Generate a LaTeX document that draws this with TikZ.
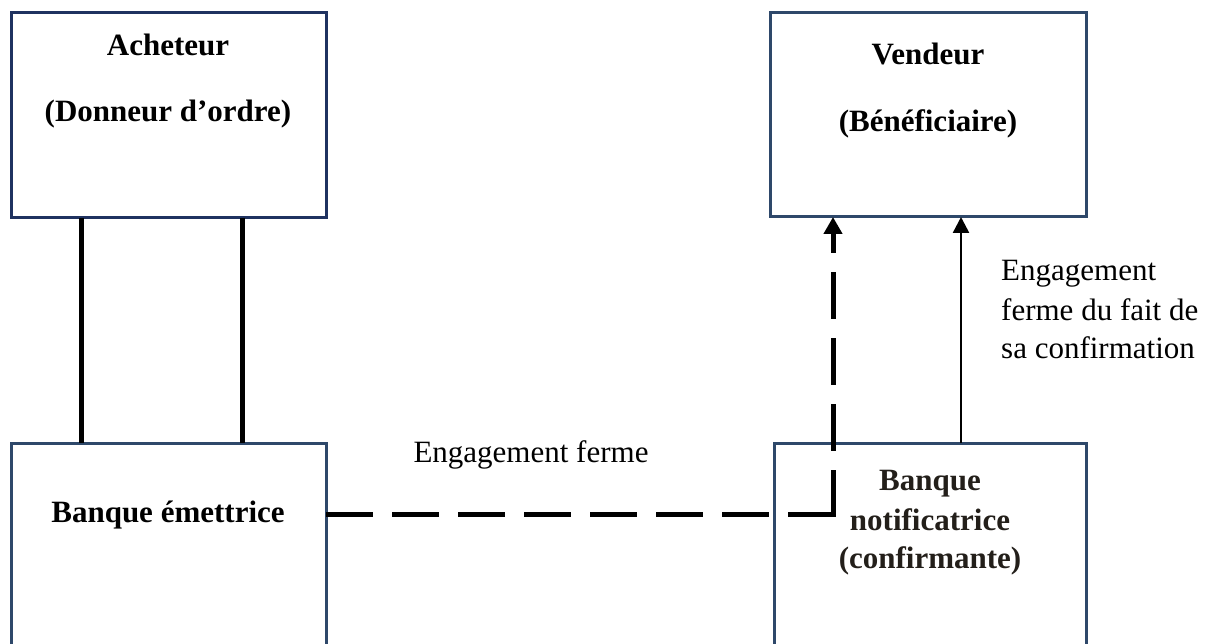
\documentclass[tikz,border=0pt]{standalone}
\usepackage{fontspec}
\setmainfont{Liberation Serif}
\usetikzlibrary{arrows.meta}
\definecolor{boxnavy}{RGB}{31,50,96}
\definecolor{boxblue}{RGB}{46,72,106}
\definecolor{inkdark}{RGB}{35,31,26}
\tikzset{
  party/.style={draw=boxblue, line width=3pt, inner sep=0pt, outer sep=0pt, rectangle},
  txt/.style={inner sep=0pt, font=\fontsize{31}{39}\selectfont},
  btxt/.style={txt, font=\fontsize{31}{39}\selectfont\bfseries},
  link/.style={line width=5pt, black},
  firm/.style={line width=5pt, black, dash pattern=on 47pt off 19pt,
    -{Triangle[length=17pt,width=18pt]}},
  confirm/.style={line width=2.5pt, black, -{Triangle[length=16pt,width=16pt]}}
}
\begin{document}
\begin{tikzpicture}[x=1pt,y=-1pt]
\useasboundingbox (0,0) rectangle (1206,644);

% boxes (the two lower ones run past the bottom edge)
\node[party, draw=boxnavy, minimum width=315pt, minimum height=205pt] (acheteurbox) at (168.5,115.5) {};
\node[party, minimum width=316pt, minimum height=204pt] (vendeurbox) at (928,115) {};
\node[party, minimum width=315pt, minimum height=237pt] (emettricebox) at (168.5,561.5) {};
\node[party, minimum width=312pt, minimum height=237pt] (notifbox) at (930,561.5) {};

% labels inside the boxes
\node[btxt, anchor=base] (acheteur) at (168,56) {Acheteur};
\node[btxt, anchor=base] (donneur) at (168,122) {(Donneur d’ordre)};
\node[btxt, anchor=base] (vendeur) at (928,65) {Vendeur};
\node[btxt, anchor=base] (benef) at (928,132) {(Bénéficiaire)};
\node[btxt, anchor=base] (emettrice) at (168,522) {Banque émettrice};
\node[btxt, anchor=base, text=inkdark] (notif1) at (930,490) {Banque};
\node[btxt, anchor=base, text=inkdark] (notif2) at (930,530) {notificatrice};
\node[btxt, anchor=base, text=inkdark] (notif3) at (930,568) {(confirmante)};

% connector labels
\node[txt, anchor=base] (lbl-firm) at (531,462) {Engagement ferme};
\node[txt, anchor=base west] (lbl-c1) at (1001,280) {Engagement};
\node[txt, anchor=base west] (lbl-c2) at (1001,320) {ferme du fait de};
\node[txt, anchor=base west] (lbl-c3) at (1001,358) {sa confirmation};

% connectors
\coordinate (bend) at (833,514);
\draw[link] (acheteurbox.south -| 81,0) -- (emettricebox.north -| 81,0);
\draw[link] (acheteurbox.south -| 242,0) -- (emettricebox.north -| 242,0);
% the dash pattern restarts on the upward leg
\draw[firm] (emettricebox.east |- bend) -- (bend)
            ([yshift=-2.5pt]bend) -- (vendeurbox.south -| bend);
\draw[confirm] (notifbox.north -| 961,0) -- (vendeurbox.south -| 961,0);
\end{tikzpicture}
\end{document}
